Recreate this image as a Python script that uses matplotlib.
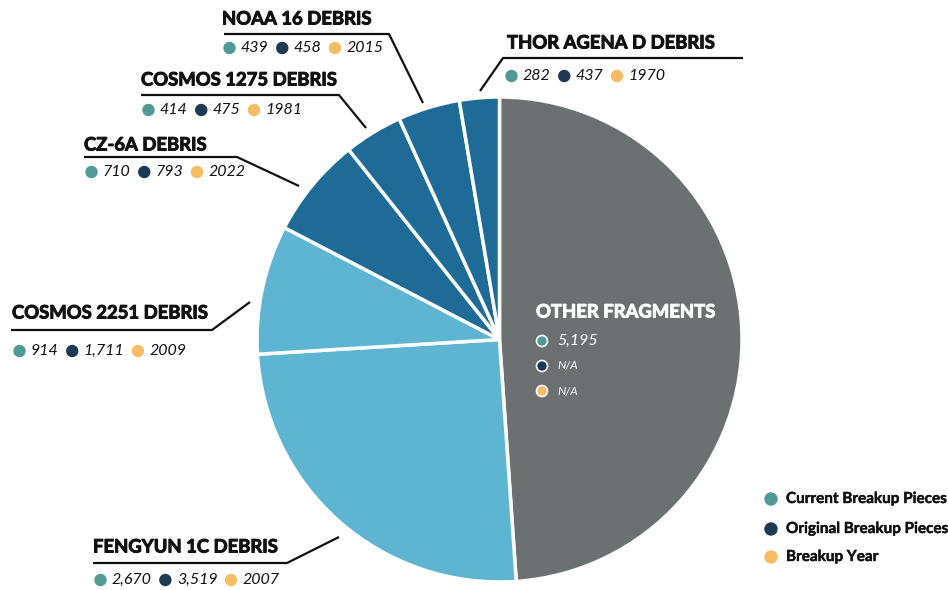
import matplotlib.pyplot as plt
import matplotlib.patheffects as pe
from matplotlib.patches import Circle

W, H = 948, 590

names = ["OTHER FRAGMENTS", "FENGYUN 1C DEBRIS", "COSMOS 2251 DEBRIS", "CZ-6A DEBRIS",
         "COSMOS 1275 DEBRIS", "NOAA 16 DEBRIS", "THOR AGENA D DEBRIS"]
current = [5195, 2670, 914, 710, 414, 439, 282]
original = [None, 3519, 1711, 793, 475, 458, 437]
years = [None, 2007, 2009, 2022, 1981, 2015, 1970]
legend_labels = ["Current Breakup Pieces", "Original Breakup Pieces", "Breakup Year"]

GRAY = "#6d7071"
LIGHT = "#5db5d1"
DARK = "#1d6b96"
slice_colors = [GRAY, LIGHT, LIGHT, DARK, DARK, DARK, DARK]
dot_colors = ["#4f9a94", "#1c3a53", "#f7bc63"]
INK = "#111111"

# title position (left x, y), leader line points  (pixel coords, y from top)
layout = {
    "FENGYUN 1C DEBRIS": ((93, 547), [(93, 563), (287, 563), (339, 537)], 580),
    "COSMOS 2251 DEBRIS": ((12, 313), [(11, 330), (212, 330), (250, 302)], 351),
    "CZ-6A DEBRIS": ((84, 145), [(84, 157), (237, 157), (299, 186)], 172),
    "COSMOS 1275 DEBRIS": ((141, 80), [(141, 95), (339, 95), (366, 128)], 110),
    "NOAA 16 DEBRIS": ((222, 19), [(224, 34), (389, 34), (423, 103)], 48),
    "THOR AGENA D DEBRIS": ((507, 43), [(743, 58), (503, 58), (480, 91)], 76),
}

plt.rcParams['font.family'] = ['Lato', 'DejaVu Sans']

fig = plt.figure(figsize=(W / 100, H / 100), dpi=100)
ax = fig.add_axes([0, 0, 1, 1])

ax.pie(current, colors=slice_colors, startangle=90, counterclock=False,
       center=(499.5, H - 339.5), radius=242.5,
       wedgeprops=dict(edgecolor="white", linewidth=2.5))
ax.set_xlim(0, W)
ax.set_ylim(0, H)
ax.set_aspect("equal")
ax.axis("off")

renderer = fig.canvas.get_renderer()


def py(y):
    return H - y


def thick(col, w=0.7):
    return [pe.withStroke(linewidth=w, foreground=col)]


def stat_row(x, y, values):
    for val, col in zip(values, dot_colors):
        ax.add_patch(Circle((x + 5.5, py(y)), 5.5, color=col, zorder=5))
        t = ax.text(x + 17, py(y), val, fontsize=11.5, style="italic",
                    color=INK, ha="left", va="center")
        bb = t.get_window_extent(renderer=renderer)
        x = bb.x1 + 8


for i, name in enumerate(names[1:], start=1):
    (tx, ty), pts, sy = layout[name]
    ax.text(tx, py(ty), name, fontsize=13.3, fontweight="bold", color=INK,
            ha="left", va="center", path_effects=thick(INK))
    ax.plot([p[0] for p in pts], [py(p[1]) for p in pts], color=INK, lw=1.6,
            solid_capstyle="butt")
    vals = [f"{current[i]:,}", f"{original[i]:,}", str(years[i])]
    stat_row(tx + 2 if name != "THOR AGENA D DEBRIS" else 506, sy, vals)

# other fragments, inside the gray slice
ax.text(536, py(312), names[0], fontsize=13.3, fontweight="bold", color="white",
        ha="left", va="center", path_effects=thick("white"))
other_vals = [f"{current[0]:,}", "N/A", "N/A"]
for k, (val, col) in enumerate(zip(other_vals, dot_colors)):
    yy = [341, 366, 391][k]
    ax.add_patch(Circle((542, py(yy)), 5.5, facecolor=col, edgecolor="white",
                        lw=1.2, zorder=5))
    ax.text(557, py(yy), val, fontsize=11.5 if k == 0 else 8.5, style="italic",
            color="white", ha="left", va="center")

# legend
for k, (lab, col) in enumerate(zip(legend_labels, dot_colors)):
    yy = [499, 529, 557][k]
    ax.add_patch(Circle((771, py(yy)), 6, color=col))
    ax.text(786, py(yy), lab, fontsize=11, fontweight="bold", color=INK,
            ha="left", va="center", path_effects=thick(INK, 0.3))

fig.savefig("out.png", dpi=100)
